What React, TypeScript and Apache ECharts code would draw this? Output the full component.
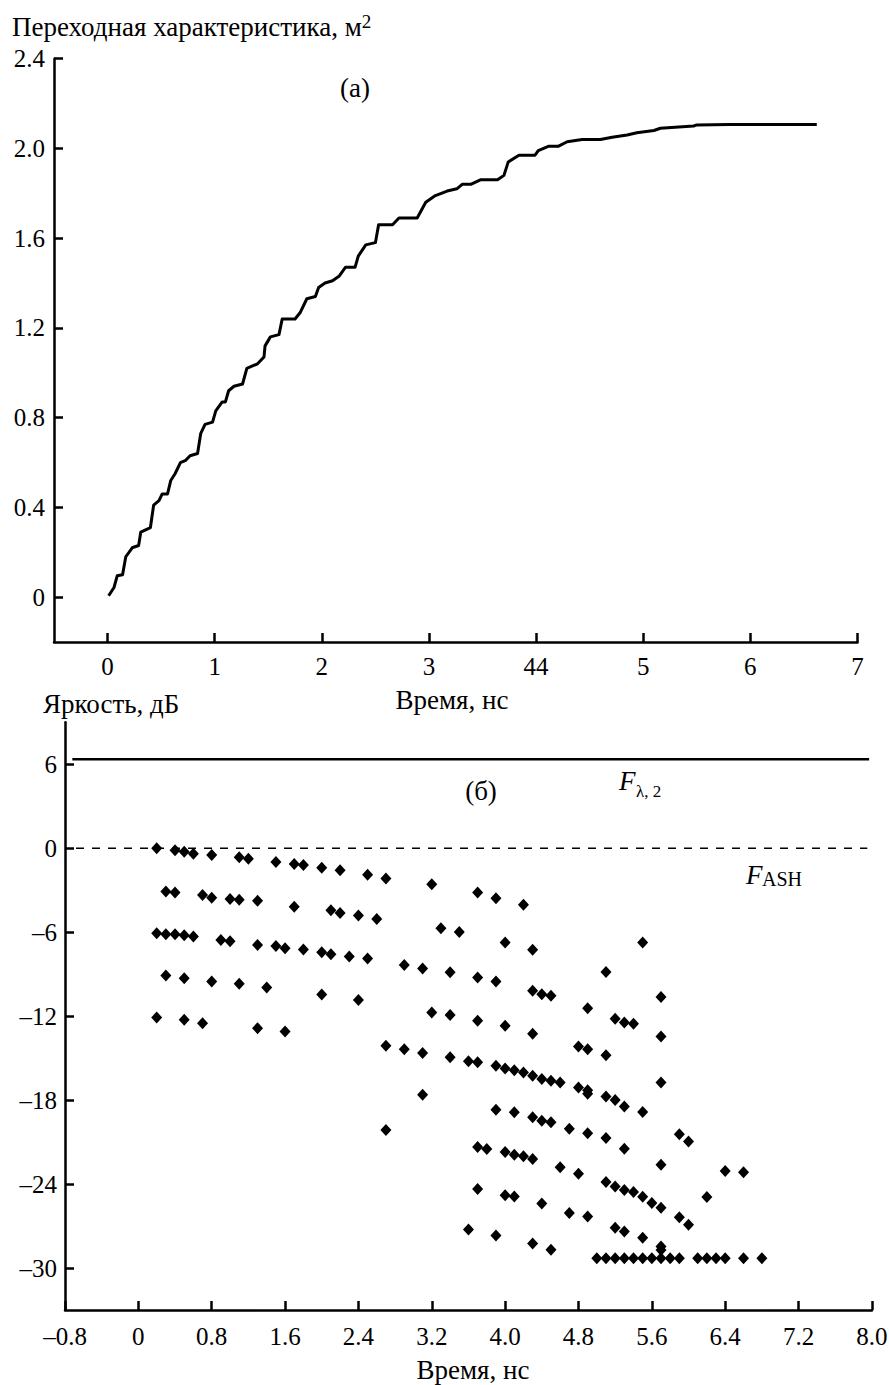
import React, { useEffect, useRef } from "react";
import * as echarts from "echarts";

// ---- Panel (а): step response, time in ns vs m^2 ----
const responseTime = [
  0.01, 0.06, 0.09, 0.14, 0.17, 0.23, 0.29, 0.31, 0.4, 0.43, 0.48, 0.51, 0.56, 0.59, 0.63, 0.68,
  0.73, 0.77, 0.84, 0.87, 0.91, 0.98, 1.01, 1.07, 1.1, 1.13, 1.18, 1.26, 1.3, 1.4, 1.46, 1.47,
  1.52, 1.6, 1.63, 1.75, 1.8, 1.86, 1.94, 1.97, 2.03, 2.1, 2.16, 2.22, 2.31, 2.34, 2.41, 2.5,
  2.53, 2.66, 2.72, 2.89, 2.97, 3.06, 3.17, 3.26, 3.31, 3.39, 3.48, 3.64, 3.7, 3.74, 3.84, 3.99,
  4.02, 4.12, 4.21, 4.29, 4.43, 4.6, 4.71, 4.85, 4.94, 5.1, 5.16, 5.47, 5.5, 5.8, 6.62,
];
const responseValue = [
  0.006, 0.043, 0.095, 0.1, 0.18, 0.22, 0.23, 0.29, 0.31, 0.41, 0.43, 0.46, 0.46, 0.52, 0.55, 0.6,
  0.61, 0.63, 0.64, 0.73, 0.77, 0.78, 0.83, 0.87, 0.87, 0.92, 0.94, 0.95, 1.02, 1.04, 1.07, 1.12,
  1.16, 1.17, 1.24, 1.24, 1.27, 1.33, 1.34, 1.38, 1.4, 1.41, 1.43, 1.47, 1.47, 1.52, 1.57, 1.58,
  1.66, 1.66, 1.69, 1.69, 1.76, 1.79, 1.81, 1.82, 1.84, 1.84, 1.86, 1.86, 1.88, 1.94, 1.97, 1.97,
  1.99, 2.01, 2.01, 2.03, 2.04, 2.04, 2.05, 2.06, 2.07, 2.08, 2.09, 2.1, 2.105, 2.107, 2.107,
];
const topXTicks = [0, 1, 2, 3, 4, 5, 6, 7];
const topXLabels = ["0", "1", "2", "3", "44", "5", "6", "7"];
const topYTicks = [0, 0.4, 0.8, 1.2, 1.6, 2.0, 2.4];
const topYLabels = ["0", "0.4", "0.8", "1.2", "1.6", "2.0", "2.4"];

// ---- Panel (б): brightness in dB vs time in ns ----
const bandA = [
  [0.2, 0.0], [0.4, -0.15], [0.5, -0.25], [0.6, -0.4], [0.8, -0.48], [1.1, -0.65], [1.2, -0.75],
  [1.5, -0.98], [1.7, -1.12], [1.8, -1.2], [2.0, -1.4], [2.2, -1.57], [2.5, -1.9], [2.7, -2.17],
  [3.2, -2.57], [3.7, -3.17], [3.9, -3.57], [4.2, -4.03],
];
const bandB = [
  [0.3, -3.1], [0.4, -3.17], [0.7, -3.34], [0.8, -3.53], [1.0, -3.62], [1.1, -3.69], [1.3, -3.76],
  [1.7, -4.19], [2.1, -4.43], [2.2, -4.62], [2.4, -4.81], [2.6, -5.05], [3.3, -5.72], [3.5, -5.98],
  [4.0, -6.74], [4.3, -7.26], [5.5, -6.74],
];
const bandC = [
  [0.2, -6.07], [0.3, -6.14], [0.4, -6.14], [0.5, -6.21], [0.6, -6.31], [0.9, -6.55], [1.0, -6.64],
  [1.3, -6.91], [1.5, -6.98], [1.6, -7.14], [1.8, -7.24], [2.0, -7.43], [2.1, -7.57], [2.3, -7.74],
  [2.5, -7.88], [2.9, -8.34], [3.1, -8.6], [3.4, -8.86], [3.7, -9.24], [3.9, -9.53], [4.3, -10.19],
  [4.4, -10.43], [4.5, -10.55], [5.1, -8.84], [5.7, -10.64],
];
const bandD = [
  [0.3, -9.1], [0.5, -9.29], [0.8, -9.53], [1.1, -9.69], [1.4, -9.96], [2.0, -10.46], [2.4, -10.84],
  [3.2, -11.74], [3.4, -11.92], [3.7, -12.32], [4.0, -12.69], [4.3, -13.26], [4.9, -11.43],
  [5.2, -12.19], [5.3, -12.46], [5.4, -12.55], [5.7, -13.46], [4.8, -14.17], [4.9, -14.36],
  [5.1, -14.79], [5.7, -16.74],
];
const bandE = [
  [0.2, -12.1], [0.5, -12.26], [0.7, -12.5], [1.3, -12.86], [1.6, -13.1], [2.7, -14.12],
  [2.9, -14.36], [3.1, -14.64], [3.4, -14.94], [3.6, -15.22], [3.7, -15.29], [3.9, -15.55],
  [4.0, -15.74], [4.1, -15.86], [4.2, -16.03], [4.3, -16.26], [4.4, -16.5], [4.5, -16.62],
  [4.6, -16.74], [4.8, -17.1], [4.9, -17.3], [4.9, -17.55], [5.1, -17.75], [5.2, -18.0],
  [5.3, -18.45], [5.5, -18.85], [3.1, -17.62],
];
const bandF = [
  [2.7, -20.14], [3.9, -18.69], [4.1, -18.86], [4.3, -19.22], [4.4, -19.47], [4.5, -19.58],
  [4.7, -20.04], [4.9, -20.36], [5.1, -20.71], [5.3, -21.48], [5.9, -20.44], [6.0, -20.95],
];
const bandG = [
  [3.7, -21.35], [3.8, -21.49], [4.0, -21.71], [4.1, -21.9], [4.2, -22.02], [4.3, -22.2],
  [4.6, -22.79], [4.8, -23.26], [5.1, -23.85], [5.2, -24.18], [5.3, -24.42], [5.4, -24.56],
  [5.5, -24.91], [5.6, -25.36], [5.7, -25.69], [5.9, -26.37], [6.0, -26.9], [5.7, -22.62],
  [6.4, -23.07], [6.6, -23.15], [6.2, -24.93],
];
const bandH = [
  [3.7, -24.35], [4.0, -24.8], [4.1, -24.88], [4.4, -25.39], [4.7, -26.06], [4.9, -26.31],
  [5.2, -27.12], [5.3, -27.39], [5.5, -27.83], [5.7, -28.46], [5.7, -28.72],
];
const bandI = [[3.6, -27.24], [3.9, -27.67], [4.3, -28.24], [4.5, -28.69]];
const floorLevel = -29.3;
const floorTimes = [5.0, 5.1, 5.2, 5.3, 5.4, 5.5, 5.6, 5.7, 5.8, 5.9, 6.1, 6.2, 6.3, 6.4, 6.6, 6.8];

const lambdaLevel = 6.36; // F_λ,2
const ashLevel = 0; // F_ASH
const lambdaSpan = [-0.72, 7.97];
const ashSpan = [-0.68, 7.95];

const bottomXTicks = [-0.8, 0, 0.8, 1.6, 2.4, 3.2, 4.0, 4.8, 5.6, 6.4, 7.2, 8.0];
const bottomXLabels = ["–0.8", "0", "0.8", "1.6", "2.4", "3.2", "4.0", "4.8", "5.6", "6.4", "7.2", "8.0"];
const bottomYTicks = [6, 0, -6, -12, -18, -24, -30];
const bottomYLabels = ["6", "0", "–6", "–12", "–18", "–24", "–30"];

const FONT = "Liberation Serif";

function pick(ticks: number[], labels: string[], v: number) {
  for (let i = 0; i < ticks.length; i++) {
    if (Math.abs(ticks[i] - v) < 1e-6) return labels[i];
  }
  return "";
}

export default function App() {
  const ref = useRef<HTMLDivElement>(null);

  useEffect(() => {
    if (!ref.current) return;
    const chart = echarts.init(ref.current, null, { renderer: "svg" });

    const curve = responseTime.map((t, i) => [t, responseValue[i]]);
    const dots = [
      ...bandA, ...bandB, ...bandC, ...bandD, ...bandE, ...bandF, ...bandG, ...bandH, ...bandI,
      ...floorTimes.map((t) => [t, floorLevel]),
    ];

    const axisLine = { show: true, onZero: false, lineStyle: { color: "#000", width: 2.5 } };
    const label = { color: "#000", fontFamily: FONT, fontSize: 25 };
    const tick = (vals: number[]) => ({
      show: true,
      inside: true,
      length: 9,
      customValues: vals,
      lineStyle: { color: "#000", width: 2.5 },
    });

    const txt = (text: string, x: number, y: number, extra: any = {}) => ({
      type: "text",
      x,
      y,
      silent: true,
      style: {
        text,
        fill: "#000",
        fontFamily: FONT,
        fontSize: 27,
        textAlign: "left",
        textVerticalAlign: "middle",
        ...extra,
      },
    });

    chart.setOption({
      animation: false,
      backgroundColor: "#fff",
      grid: [
        { left: 54, top: 58.7, width: 803.5, height: 583.3, containLabel: false, outerBoundsMode: "none" },
        { left: 65, top: 722.3, width: 806.9, height: 587.7, containLabel: false, outerBoundsMode: "none" },
      ],
      xAxis: [
        {
          type: "value",
          gridIndex: 0,
          min: -0.5,
          max: 7,
          axisLine,
          axisTick: tick(topXTicks),
          axisLabel: {
            ...label,
            margin: 12,
            customValues: topXTicks,
            formatter: (v: number) => pick(topXTicks, topXLabels, v),
          },
          splitLine: { show: false },
        },
        {
          type: "value",
          gridIndex: 1,
          min: -0.8,
          max: 8,
          axisLine,
          axisTick: tick(bottomXTicks),
          axisLabel: {
            ...label,
            margin: 14,
            customValues: bottomXTicks,
            formatter: (v: number) => pick(bottomXTicks, bottomXLabels, v),
          },
          splitLine: { show: false },
        },
      ],
      yAxis: [
        {
          type: "value",
          gridIndex: 0,
          min: -0.2,
          max: 2.4,
          axisLine,
          axisTick: tick(topYTicks),
          axisLabel: {
            ...label,
            margin: 9,
            customValues: topYTicks,
            formatter: (v: number) => pick(topYTicks, topYLabels, v),
          },
          splitLine: { show: false },
        },
        {
          type: "value",
          gridIndex: 1,
          min: -33,
          max: 9,
          axisLine,
          axisTick: tick(bottomYTicks),
          axisLabel: {
            ...label,
            margin: 8,
            customValues: bottomYTicks,
            formatter: (v: number) => pick(bottomYTicks, bottomYLabels, v),
          },
          splitLine: { show: false },
        },
      ],
      series: [
        {
          type: "line",
          xAxisIndex: 0,
          yAxisIndex: 0,
          data: curve,
          showSymbol: false,
          lineStyle: { color: "#000", width: 3, join: "round" },
          silent: true,
        },
        {
          type: "line",
          xAxisIndex: 1,
          yAxisIndex: 1,
          data: lambdaSpan.map((t) => [t, lambdaLevel]),
          showSymbol: false,
          lineStyle: { color: "#000", width: 2.5 },
          silent: true,
        },
        {
          type: "line",
          xAxisIndex: 1,
          yAxisIndex: 1,
          data: ashSpan.map((t) => [t, ashLevel]),
          showSymbol: false,
          lineStyle: { color: "#000", width: 1.5, type: [8, 8] },
          silent: true,
        },
        {
          type: "scatter",
          xAxisIndex: 1,
          yAxisIndex: 1,
          data: dots,
          symbol: "diamond",
          symbolSize: [11, 12],
          itemStyle: { color: "#000", opacity: 1 },
          silent: true,
        },
      ],
      graphic: [
        txt("{m|Переходная характеристика, м}{s|2}", 12, 27, {
          rich: {
            m: { fontFamily: FONT, fontSize: 27, lineHeight: 30, fill: "#000" },
            s: { fontFamily: FONT, fontSize: 19, lineHeight: 26, verticalAlign: "top", fill: "#000" },
          },
        }),
        txt("(а)", 355, 88, { textAlign: "center" }),
        txt("Время, нс", 452, 700, { textAlign: "center" }),
        txt("Яркость, дБ", 43, 704),
        txt("(б)", 481, 791, { textAlign: "center" }),
        txt("F", 619, 781, { fontStyle: "italic" }),
        txt("λ, 2", 636, 791, { fontSize: 17 }),
        txt("F", 746, 875, { fontStyle: "italic" }),
        txt("ASH", 762, 879, { fontSize: 20 }),
        txt("Время, нс", 473, 1370, { textAlign: "center" }),
      ],
    });

    return () => chart.dispose();
  }, []);

  return (
    <div
      ref={ref}
      style={{ position: "absolute", left: 0, top: 0, width: 889, height: 1385, background: "#fff" }}
    />
  );
}
